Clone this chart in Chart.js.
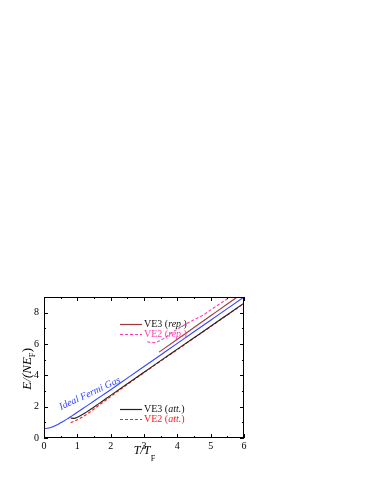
<!DOCTYPE html>
<html>
<head>
<meta charset="utf-8">
<script src="https://cdn.jsdelivr.net/npm/chart.js@4"></script>
<style>
  html, body { margin: 0; padding: 0; background: #fff; }
  #wrap { position: relative; width: 374px; height: 484px; }
</style>
</head>
<body>
<div id="wrap"><canvas id="chart" width="374" height="484"></canvas></div>
<script>
// Energy of the unitary Fermi gas vs temperature (virial expansions)

// Ideal Fermi gas
const idealT = [0, 0.1, 0.2, 0.3, 0.4, 0.5, 0.6, 0.7, 0.8, 0.9, 1, 1.25, 1.5, 1.75, 2, 2.5, 3, 3.5, 4, 4.5, 5, 5.5, 6];
const idealE = [0.6, 0.62, 0.67, 0.75, 0.85, 0.97, 1.09, 1.22, 1.36, 1.5, 1.64, 2.0, 2.36, 2.72, 3.08, 3.82, 4.56, 5.3, 6.04, 6.78, 7.52, 8.26, 9.0];

// VE3 (att.)
const ve3AttT = [0.8, 0.9, 1.0, 1.25, 1.5, 1.75, 2, 2.5, 3, 3.5, 4, 4.5, 5, 5.5, 6];
const ve3AttE = [1.28, 1.25, 1.32, 1.62, 1.98, 2.35, 2.72, 3.46, 4.2, 4.94, 5.67, 6.4, 7.13, 7.87, 8.61];

// VE2 (att.)
const ve2AttT = [0.8, 0.9, 1.0, 1.25, 1.5, 1.75, 2, 2.5, 3, 3.5, 4, 4.5, 5, 5.5, 6];
const ve2AttE = [0.98, 1.06, 1.16, 1.47, 1.85, 2.25, 2.64, 3.42, 4.17, 4.91, 5.64, 6.38, 7.11, 7.85, 8.59];

// VE3 (rep.)
const ve3RepT = [3.45, 4, 4.5, 5, 5.5, 5.85];
const ve3RepE = [5.48, 6.3, 7.05, 7.8, 8.55, 9.08];

// VE2 (rep.)
const ve2RepT = [3.1, 3.2, 3.3, 3.4, 3.6, 3.8, 4.0, 4.5, 4.8, 5.0, 5.3, 5.6];
const ve2RepE = [6.15, 6.1, 6.09, 6.14, 6.36, 6.66, 6.95, 7.55, 7.88, 8.18, 8.6, 9.02];

// axis ticks
const xTicks = [0, 1, 2, 3, 4, 5, 6];
const xMinor = [0.5, 1.5, 2.5, 3.5, 4.5, 5.5];
const yTicks = [0, 2, 4, 6, 8];
const yMinor = [1, 3, 5, 7, 9];

const SERIF = '"Liberation Serif", "DejaVu Serif", serif';
const BLUE = '#3344ff';
const BLACK = '#222222';
const RED = '#ff1a1a';
const BROWN = '#a03a36';
const PINK = '#ff3cb4';

function pts(xs, ys) {
  return xs.map((x, i) => ({ x: x, y: ys[i] }));
}

// frame, inward ticks, axis titles, legend and curve label
const decorations = {
  id: 'decorations',
  afterDraw(chart) {
    const c = chart.ctx;
    const a = chart.chartArea;
    const sx = chart.scales.x, sy = chart.scales.y;
    c.save();
    c.strokeStyle = '#000';
    c.lineWidth = 1;
    c.strokeRect(a.left + 0.5, a.top + 0.5, a.right - a.left - 1, a.bottom - a.top - 1);

    c.beginPath();
    function xt(v, len) {
      const p = Math.round(sx.getPixelForValue(v)) + 0.5;
      c.moveTo(p, a.bottom); c.lineTo(p, a.bottom - len);
      c.moveTo(p, a.top); c.lineTo(p, a.top + len);
    }
    function yt(v, len) {
      const p = Math.round(sy.getPixelForValue(v)) + 0.5;
      c.moveTo(a.left, p); c.lineTo(a.left + len, p);
      c.moveTo(a.right, p); c.lineTo(a.right - len, p);
    }
    xTicks.forEach(v => xt(v, 4));
    xMinor.forEach(v => xt(v, 2));
    yTicks.forEach(v => yt(v, 4));
    yMinor.forEach(v => yt(v, 2));
    c.stroke();

    // x title: T/T_F
    c.fillStyle = '#000';
    c.textBaseline = 'alphabetic';
    c.textAlign = 'left';
    c.font = 'italic 12px ' + SERIF;
    let w = c.measureText('T/T').width;
    let x0 = 144 - w / 2 - 2;
    c.fillText('T/T', x0, 454);
    c.font = '8px ' + SERIF;
    c.fillText('F', x0 + w + 0.5, 461);

    // y title: E/(NE_F)
    c.save();
    c.translate(31, 369);
    c.rotate(-Math.PI / 2);
    c.font = 'italic 13px ' + SERIF;
    const w1 = c.measureText('E/(NE').width;
    c.font = '8px ' + SERIF;
    const w2 = c.measureText('F').width;
    c.font = '13px ' + SERIF;
    const w3 = c.measureText(')').width;
    let tx = -(w1 + w2 + w3) / 2;
    c.font = 'italic 13px ' + SERIF;
    c.fillText('E/(NE', tx, 0);
    c.font = '8px ' + SERIF;
    c.fillText('F', tx + w1, 3.5);
    c.font = '13px ' + SERIF;
    c.fillText(')', tx + w1 + w2 + 0.5, 0);
    c.restore();

    // legend entries
    function entry(y, color, dash, label, tag, textColor) {
      c.save();
      c.strokeStyle = color;
      c.lineWidth = 1.2;
      c.setLineDash(dash);
      c.beginPath();
      c.moveTo(120, y + 0.5); c.lineTo(142, y + 0.5);
      c.stroke();
      c.restore();
      c.fillStyle = textColor;
      c.textBaseline = 'middle';
      c.font = '10px ' + SERIF;
      let px = 144;
      c.fillText(label + ' (', px, y);
      px += c.measureText(label + ' (').width;
      c.font = 'italic 10px ' + SERIF;
      c.fillText(tag, px, y);
      px += c.measureText(tag).width;
      c.font = '10px ' + SERIF;
      c.fillText(')', px, y);
    }
    entry(324, BROWN, [], 'VE3', 'rep.', '#111');
    entry(334, PINK, [3, 2], 'VE2', 'rep.', PINK);
    entry(409, BLACK, [], 'VE3', 'att.', '#111');
    entry(419, RED, [3, 2], 'VE2', 'att.', RED);

    // curve label
    c.save();
    c.translate(91, 396);
    c.rotate(-25 * Math.PI / 180);
    c.fillStyle = BLUE;
    c.textAlign = 'center';
    c.textBaseline = 'alphabetic';
    c.font = 'italic 10px ' + SERIF;
    c.fillText('Ideal Fermi Gas', 0, 0);
    c.restore();

    c.restore();
  }
};

function line(label, data, color, dash) {
  return {
    label: label,
    data: data,
    borderColor: color,
    borderWidth: 1.1,
    borderDash: dash,
    pointRadius: 0,
    fill: false,
    cubicInterpolationMode: 'monotone'
  };
}

const ctx = document.getElementById('chart').getContext('2d');
new Chart(ctx, {
  type: 'line',
  data: {
    datasets: [
      line('Ideal Fermi Gas', pts(idealT, idealE), BLUE, []),
      line('VE3 (rep.)', pts(ve3RepT, ve3RepE), BROWN, []),
      line('VE2 (rep.)', pts(ve2RepT, ve2RepE), PINK, [3, 2]),
      line('VE3 (att.)', pts(ve3AttT, ve3AttE), BLACK, []),
      line('VE2 (att.)', pts(ve2AttT, ve2AttE), RED, [3, 2])
    ]
  },
  options: {
    responsive: false,
    animation: false,
    events: [],
    layout: { padding: { left: 0, top: 297, right: 130, bottom: 0 } },
    plugins: {
      legend: { display: false },
      tooltip: { enabled: false }
    },
    scales: {
      x: {
        type: 'linear',
        min: 0,
        max: 6,
        afterFit: s => { s.height = 46; },
        afterBuildTicks: s => { s.ticks = xTicks.map(v => ({ value: v })); },
        grid: { display: false, drawTicks: false },
        border: { display: false },
        ticks: {
          padding: 2,
          color: '#000',
          maxRotation: 0,
          font: { family: SERIF, size: 10 }
        }
      },
      y: {
        type: 'linear',
        min: 0,
        max: 9,
        afterFit: s => { s.width = 44; },
        afterBuildTicks: s => { s.ticks = yTicks.map(v => ({ value: v })); },
        grid: { display: false, drawTicks: false },
        border: { display: false },
        ticks: {
          padding: 5,
          color: '#000',
          font: { family: SERIF, size: 10 }
        }
      }
    }
  },
  plugins: [decorations]
});
</script>
</body>
</html>
